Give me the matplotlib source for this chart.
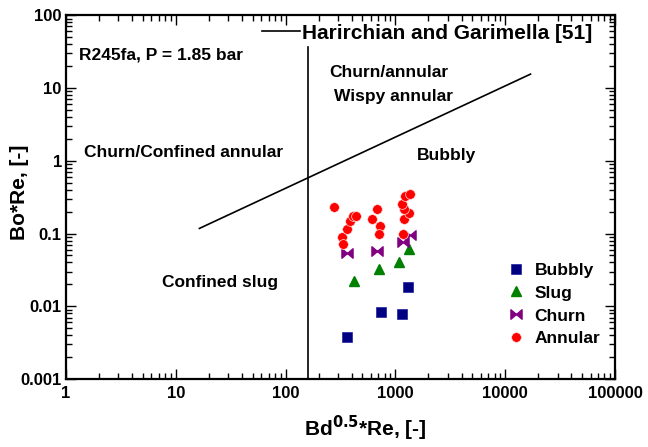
import matplotlib.pyplot as plt
from matplotlib.path import Path

plt.rcParams["font.family"] = ["Liberation Sans", "DejaVu Sans"]
plt.rcParams["font.weight"] = "bold"

# Measured points, R245fa at 1.85 bar: x = Bd^0.5*Re, y = Bo*Re
bubbly_x = [360, 744, 1141, 1311]
bubbly_y = [0.00374, 0.0084, 0.00774, 0.0182]

slug_x = [423, 705, 1086, 1322]
slug_y = [0.0224, 0.0324, 0.0401, 0.0605]

churn_x = [360, 680, 1173, 1358]
churn_y = [0.0533, 0.0568, 0.0762, 0.0951]

annular_x = [276, 324, 331, 360, 386, 414, 435,
             616, 676, 724, 705,
             1165, 1197, 1330, 1197, 1156, 1216, 1367]
annular_y = [0.2285, 0.0901, 0.0715, 0.1148, 0.1466, 0.175, 0.1765,
             0.1578, 0.2143, 0.1276, 0.0982,
             0.0982, 0.1578, 0.1906, 0.2143, 0.2535, 0.3296, 0.3445]

# Harirchian and Garimella transition lines
confined_x = [160, 160]
confined_y = [0.001, 36]
transition_x = [16.4, 17000]
transition_y = [0.1175, 15.5]

# bowtie marker for churn flow
bowtie = Path(
    [(-1, -0.85), (0, 0), (-1, 0.85), (-1, -0.85),
     (1, -0.85), (0, 0), (1, 0.85), (1, -0.85)],
    [Path.MOVETO, Path.LINETO, Path.LINETO, Path.CLOSEPOLY,
     Path.MOVETO, Path.LINETO, Path.LINETO, Path.CLOSEPOLY],
)

fig = plt.figure(figsize=(6.48, 4.47), dpi=100)
ax = fig.add_axes([0.1019, 0.152, 0.8472, 0.814])

ax.plot(confined_x, confined_y, color="black", lw=1.2)
hg_line, = ax.plot(transition_x, transition_y, color="black", lw=1.2,
                   label="Harirchian and Garimella [51]")

ax.plot(bubbly_x, bubbly_y, "s", color="#000080", ms=7, ls="none",
        mec="#2020a0", mew=0.5, label="Bubbly")
ax.plot(slug_x, slug_y, "^", color="#008000", ms=7.5, ls="none",
        mec="#008000", label="Slug")
ax.plot(churn_x, churn_y, marker=bowtie, color="#800080", ms=8, ls="none",
        mec="#800080", label="Churn")
ax.plot(annular_x, annular_y, "o", color="#ff0000", ms=7, ls="none",
        mec="#ffdede", mew=0.5, label="Annular")

ax.set_xscale("log")
ax.set_yscale("log")
ax.set_xlim(1, 100000)
ax.set_ylim(0.001, 100)
ax.set_xticks([1, 10, 100, 1000, 10000, 100000])
ax.set_xticklabels(["1", "10", "100", "1000", "10000", "100000"])
ax.set_yticks([0.001, 0.01, 0.1, 1, 10, 100])
ax.set_yticklabels(["0.001", "0.01", "0.1", "1", "10", "100"])

ax.tick_params(which="both", direction="in", top=True, right=True,
               labelsize=12, width=1.0)
ax.tick_params(which="major", length=7, pad=5)
ax.tick_params(which="minor", length=4)
ax.tick_params(axis="y", which="major", pad=3)
for spine in ax.spines.values():
    spine.set_linewidth(1.6)

ax.set_xlabel("Bd$^{\\mathbf{0.5}}$*Re, [-]", fontsize=15, fontweight="bold")
ax.xaxis.set_label_coords(0.546, -0.095)
ax.set_ylabel("Bo*Re, [-]", fontsize=15, fontweight="bold")
ax.yaxis.set_label_coords(-0.068, 0.514)

# flow regime annotations
txt = dict(fontsize=12.5, fontweight="bold", transform=ax.transAxes,
           va="center")
ax.text(0.024, 0.890, "R245fa, P = 1.85 bar", ha="left", **txt)
ax.text(0.588, 0.843, "Churn/annular", ha="center", **txt)
ax.text(0.597, 0.777, "Wispy annular", ha="center", **txt)
ax.text(0.214, 0.624, "Churn/Confined annular", ha="center", **txt)
ax.text(0.693, 0.615, "Bubbly", ha="center", **txt)
ax.text(0.280, 0.266, "Confined slug", ha="center", **txt)

hg_leg = ax.legend(handles=[hg_line], loc="center left",
                   bbox_to_anchor=(0.357, 0.9505), frameon=False,
                   fontsize=15, handlelength=1.83, handletextpad=0.1,
                   borderpad=0, borderaxespad=0)
ax.add_artist(hg_leg)

handles = [h for h in ax.get_lines()[2:]]
ax.legend(handles=handles, loc="center left", bbox_to_anchor=(0.803, 0.205),
          frameon=False, fontsize=12.5, handlelength=1.0, handletextpad=0.6,
          labelspacing=0.45, borderpad=0, borderaxespad=0)

fig.savefig("out.png", dpi=100)
